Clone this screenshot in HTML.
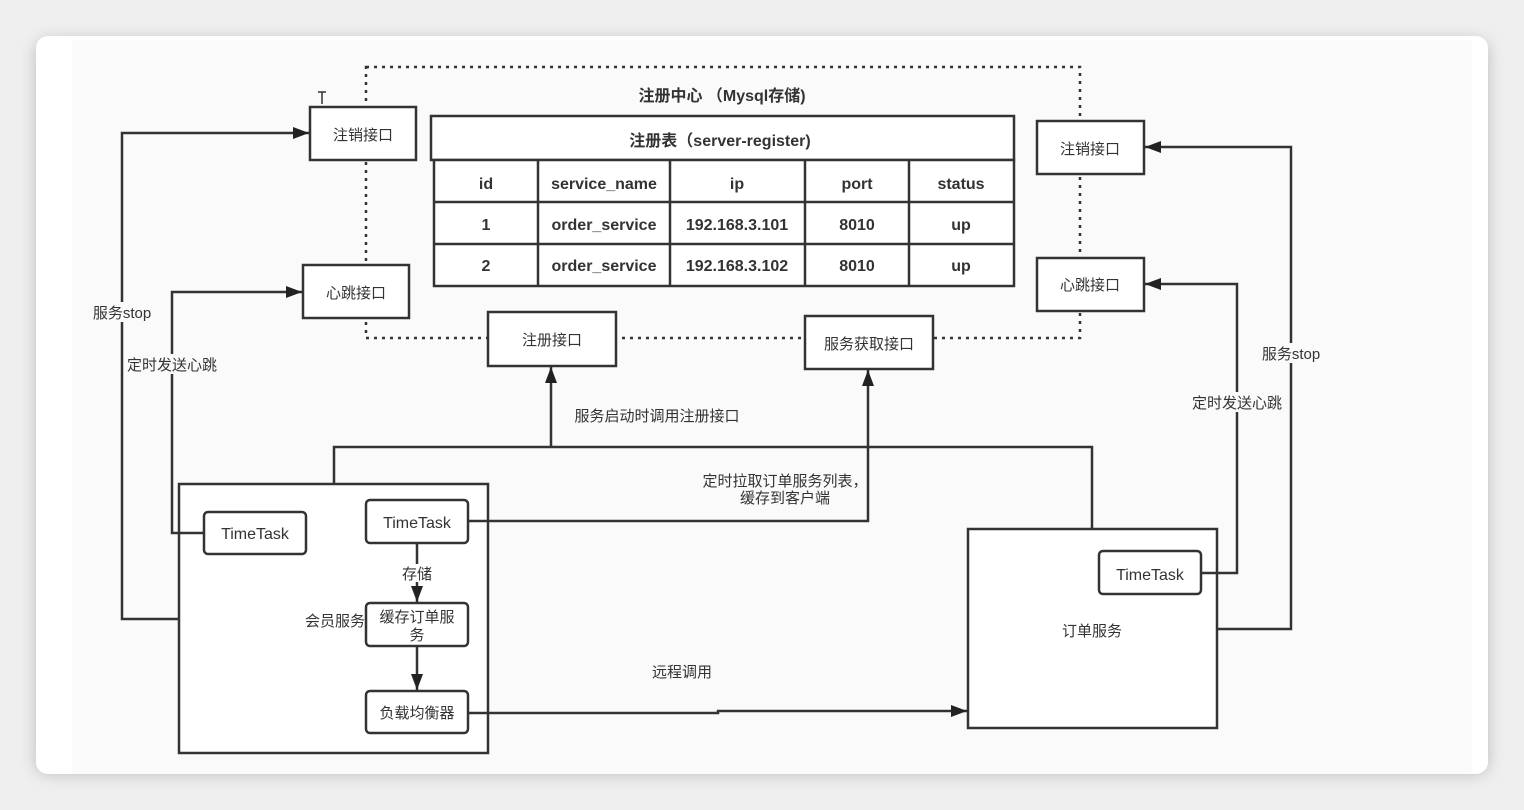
<!DOCTYPE html>
<html><head><meta charset="utf-8"><style>
html,body{margin:0;padding:0;background:#ececec;}
svg{display:block;}
text{font-family:"Liberation Sans","Noto Sans CJK SC",sans-serif;fill:#333;}
</style></head><body>
<svg width="1524" height="810" viewBox="0 0 1524 810" xmlns="http://www.w3.org/2000/svg">
<defs>
<filter id="sh" x="-5%" y="-5%" width="110%" height="110%"><feGaussianBlur stdDeviation="8"/></filter>
<marker id="a" viewBox="0 0 16 12" refX="16" refY="6" markerWidth="16" markerHeight="12" orient="auto" markerUnits="userSpaceOnUse"><path d="M0,0 L16,6 L0,12 z" fill="#222"/></marker>
</defs>
<rect x="0" y="0" width="1524" height="810" fill="#efefef"/>
<rect x="36" y="40" width="1452" height="734" rx="12" fill="#bbb" filter="url(#sh)"/>
<rect x="36" y="36" width="1452" height="738" rx="12" fill="#ffffff"/>
<rect x="72" y="40" width="1400" height="734" fill="#fafafa"/>
<g stroke="#333" stroke-width="2.5" fill="none">
<rect x="366" y="67" width="714" height="271" stroke-dasharray="3,5" stroke-width="2.5"/>
</g>
<g stroke="#333" stroke-width="2.5" fill="#fff">
<rect x="431" y="116" width="583" height="44"/>
<rect x="434" y="160" width="580" height="126"/>
<rect x="310" y="107" width="106" height="53"/>
<rect x="303" y="265" width="106" height="53"/>
<rect x="1037" y="121" width="107" height="53"/>
<rect x="1037" y="258" width="107" height="53"/>
<rect x="488" y="312" width="128" height="54"/>
<rect x="805" y="316" width="128" height="53"/>
<rect x="179" y="484" width="309" height="269"/>
<rect x="968" y="529" width="249" height="199"/>
<rect x="204" y="512" width="102" height="42" rx="4"/>
<rect x="366" y="500" width="102" height="43" rx="4"/>
<rect x="366" y="603" width="102" height="43" rx="4"/>
<rect x="366" y="691" width="102" height="42" rx="4"/>
<rect x="1099" y="551" width="102" height="43" rx="4"/>
</g>
<g stroke="#333" stroke-width="2.5" fill="none">
<path d="M434 202H1014M434 244H1014M538 160V286M670 160V286M805 160V286M909 160V286"/>
<path d="M179 619H122V133H309" marker-end="url(#a)"/>
<path d="M204 533H172V292H302" marker-end="url(#a)"/>
<path d="M334 484V447H1092V529"/>
<path d="M551 447V367" marker-end="url(#a)"/>
<path d="M468 521H868V370" marker-end="url(#a)"/>
<path d="M417 543V602" marker-end="url(#a)"/>
<path d="M417 646V690" marker-end="url(#a)"/>
<path d="M468 713H718V711H967" marker-end="url(#a)"/>
<path d="M1201 573H1237V284H1145" marker-end="url(#a)"/>
<path d="M1217 629H1291V147H1145" marker-end="url(#a)"/>
<path d="M322 92V104M318 92H326" stroke-width="1.5"/>
</g>
<g font-size="15" text-anchor="middle">
<rect x="88" y="302" width="68" height="20" fill="#fafafa"/>
<text x="122" y="318">服务stop</text>
<rect x="124" y="354" width="96" height="20" fill="#fafafa"/>
<text x="172" y="370">定时发送心跳</text>
<rect x="1257" y="343" width="68" height="20" fill="#fafafa"/>
<text x="1291" y="359">服务stop</text>
<rect x="1189" y="392" width="96" height="20" fill="#fafafa"/>
<text x="1237" y="408">定时发送心跳</text>
<rect x="398" y="564" width="38" height="18" fill="#fff"/>
<text x="417" y="579">存储</text>
<text x="335" y="626">会员服务</text>
<text x="657" y="421">服务启动时调用注册接口</text>
<text x="785" y="486">定时拉取订单服务列表，</text>
<text x="785" y="503">缓存到客户端</text>
<text x="682" y="677">远程调用</text>
<text x="363" y="140">注销接口</text>
<text x="356" y="298">心跳接口</text>
<text x="1090" y="154">注销接口</text>
<text x="1090" y="290">心跳接口</text>
<text x="552" y="345">注册接口</text>
<text x="869" y="349">服务获取接口</text>
<text x="255" y="539" font-size="16">TimeTask</text>
<text x="417" y="528" font-size="16">TimeTask</text>
<text x="1150" y="580" font-size="16">TimeTask</text>
<text x="417" y="622">缓存订单服</text>
<text x="417" y="640">务</text>
<text x="417" y="718">负载均衡器</text>
<text x="1092" y="636">订单服务</text>
</g>
<g font-size="16" font-weight="bold" text-anchor="middle">
<text x="722" y="101">注册中心 （Mysql存储)</text>
<text x="720" y="146">注册表（server-register)</text>
<text x="486" y="189">id</text><text x="604" y="189">service_name</text><text x="737" y="189">ip</text><text x="857" y="189">port</text><text x="961" y="189">status</text>
<text x="486" y="230">1</text><text x="604" y="230">order_service</text><text x="737" y="230">192.168.3.101</text><text x="857" y="230">8010</text><text x="961" y="230">up</text>
<text x="486" y="271">2</text><text x="604" y="271">order_service</text><text x="737" y="271">192.168.3.102</text><text x="857" y="271">8010</text><text x="961" y="271">up</text>
</g>
</svg>
</body></html>
